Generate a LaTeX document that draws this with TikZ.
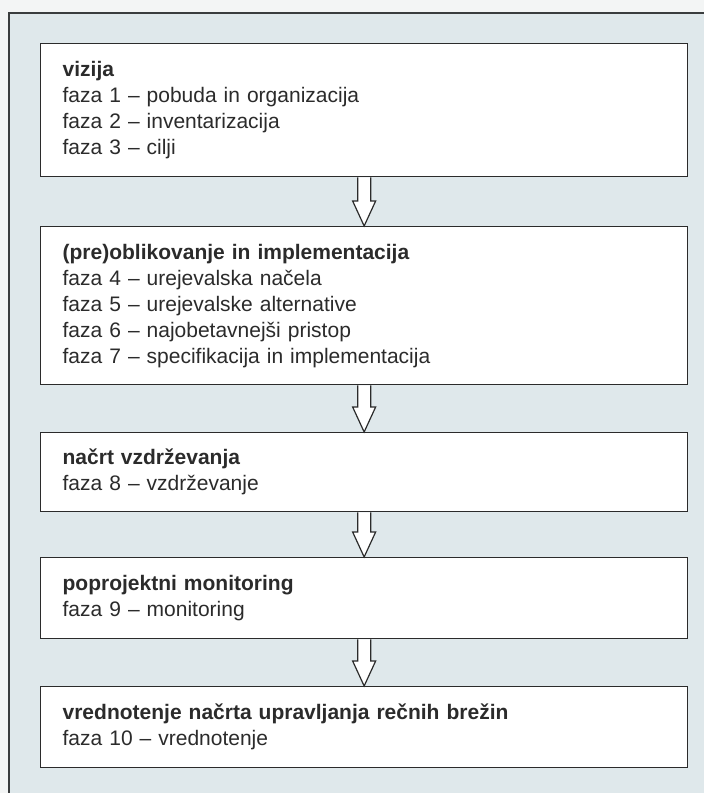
\documentclass[tikz,border=0pt]{standalone}
\usepackage{fontspec}
\setmainfont{Liberation Sans}
\usetikzlibrary{calc}
\definecolor{bgpanel}{HTML}{DFE8EB}
\definecolor{outside}{HTML}{F3F5F5}
\definecolor{ink}{HTML}{2B2B2B}
\definecolor{framecol}{HTML}{3A3D3E}
\begin{document}
\begin{tikzpicture}[x=1pt,y=-1pt,
  stage/.style={draw=ink, line width=1.3pt, fill=white, anchor=north west,
    text width=603pt, inner xsep=22pt, inner ysep=0pt, align=left,
    font=\fontsize{21}{26}\selectfont, text=ink},
  flow/.style={draw=ink, line width=1.2pt, fill=white, line join=miter}]
\useasboundingbox (0,0) rectangle (704,793);
\fill[outside] (0,0) rectangle (704,793);
\fill[bgpanel] (9,13) rectangle (704,793);
\draw[framecol, line width=2pt] (9,793) -- (9,13) -- (704,13);

\node[stage, minimum height=133pt] (b1) at (40,43)
  {\textbf{vizija}\\faza 1 – pobuda in organizacija\\faza 2 – inventarizacija\\faza 3 – cilji};
\node[stage, minimum height=158pt] (b2) at (40,226)
  {\textbf{(pre)oblikovanje in implementacija}\\faza 4 – urejevalska načela\\faza 5 – urejevalske alternative\\faza 6 – najobetavnejši pristop\\faza 7 – specifikacija in implementacija};
\node[stage, minimum height=79pt] (b3) at (40,432)
  {\textbf{načrt vzdrževanja}\\faza 8 – vzdrževanje};
\node[stage, minimum height=81pt] (b4) at (40,557)
  {\textbf{poprojektni monitoring}\\faza 9 – monitoring};
\node[stage, minimum height=81pt] (b5) at (40,686)
  {\textbf{vrednotenje načrta upravljanja rečnih brežin}\\faza 10 – vrednotenje};

\foreach \a/\b in {b1/b2,b2/b3,b3/b4,b4/b5}{
  \draw[flow] ($(\a.south)+(-6.5,0)$) -- ($(\b.north)+(-6.5,-25)$)
    -- ($(\b.north)+(-11.5,-25)$) -- (\b.north) -- ($(\b.north)+(11.5,-25)$)
    -- ($(\b.north)+(6.5,-25)$) -- ($(\a.south)+(6.5,0)$);
}
\end{tikzpicture}
\end{document}
